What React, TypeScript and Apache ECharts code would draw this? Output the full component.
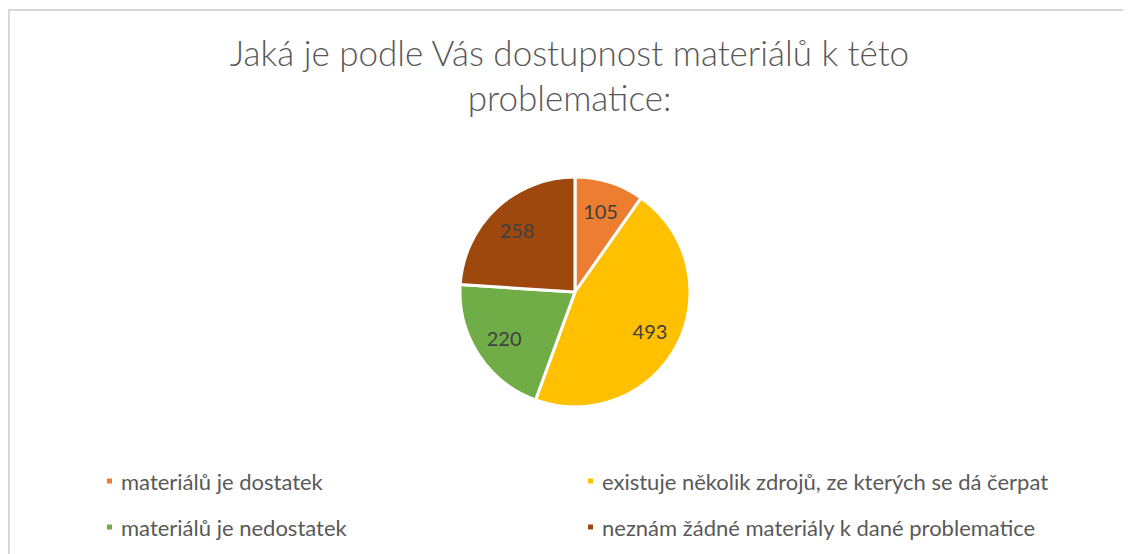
import React, { useEffect, useRef } from "react";
import * as echarts from "echarts";

const titleLines = ["Jaká je podle Vás dostupnost materiálů k této", "problematice:"];
const categories = [
  "materiálů je dostatek",
  "existuje několik zdrojů, ze kterých se dá čerpat",
  "materiálů je nedostatek",
  "neznám žádné materiály k dané problematice",
];
const values = [105, 493, 220, 258];
const colors = ["#ED7D31", "#FFC000", "#70AD47", "#9E480E"];

const FONT = "Lato, 'Open Sans', sans-serif";
const SQUARE = "path://M0,0h7v7h-7z";

export default function App() {
  const ref = useRef<HTMLDivElement>(null);
  useEffect(() => {
    if (!ref.current) return;
    const chart = echarts.init(ref.current, undefined, { renderer: "svg" });
    const data = categories.map((name, i) => ({
      name,
      value: values[i],
      itemStyle: { color: colors[i] },
    }));
    const center = [567, 284];
    const R = 115;
    const legendText = { fontFamily: FONT, fontSize: 22, color: "#595959" };
    const legendBase = {
      orient: "vertical",
      top: 457,
      itemWidth: 13,
      itemHeight: 7,
      itemGap: 24,
      icon: SQUARE,
      textStyle: legendText,
    };
    chart.setOption({
      animation: false,
      backgroundColor: "#ffffff",
      title: {
        text: titleLines.join("\n"),
        left: "center",
        top: 16,
        textStyle: {
          fontFamily: FONT,
          fontSize: 35,
          fontWeight: 300,
          color: "#595959",
          lineHeight: 45,
        },
      },
      legend: [
        { ...legendBase, data: [categories[0], categories[2]], left: 92 },
        { ...legendBase, data: [categories[1], categories[3]], left: 573 },
      ],
      series: [
        {
          type: "pie",
          center,
          radius: [0, R],
          startAngle: 90,
          clockwise: true,
          data,
          label: { show: false },
          labelLine: { show: false },
          itemStyle: { borderColor: "#ffffff", borderWidth: 3 },
          emphasis: { disabled: true },
        },
        {
          type: "pie",
          center,
          radius: [R * 0.42, R],
          startAngle: 90,
          clockwise: true,
          data: categories.map((name, i) => ({ name, value: values[i] })),
          itemStyle: { color: "rgba(0,0,0,0)", borderWidth: 0 },
          label: {
            show: true,
            position: "inside",
            formatter: "{c}",
            fontFamily: FONT,
            fontSize: 20,
            color: "#404040",
          },
          labelLine: { show: false },
          emphasis: { disabled: true },
          silent: true,
          legendHoverLink: false,
        },
      ],
    });
    return () => chart.dispose();
  }, []);
  return (
    <div style={{ position: "relative", width: 1123, height: 546 }}>
      <div ref={ref} style={{ position: "absolute", left: 0, top: 0, width: 1123, height: 546 }} />
      <div
        style={{
          position: "absolute",
          left: 0,
          top: 1,
          right: 0,
          bottom: 0,
          borderTop: "2px solid #d9d9d9",
          borderLeft: "2px solid #d9d9d9",
          pointerEvents: "none",
        }}
      />
    </div>
  );
}
